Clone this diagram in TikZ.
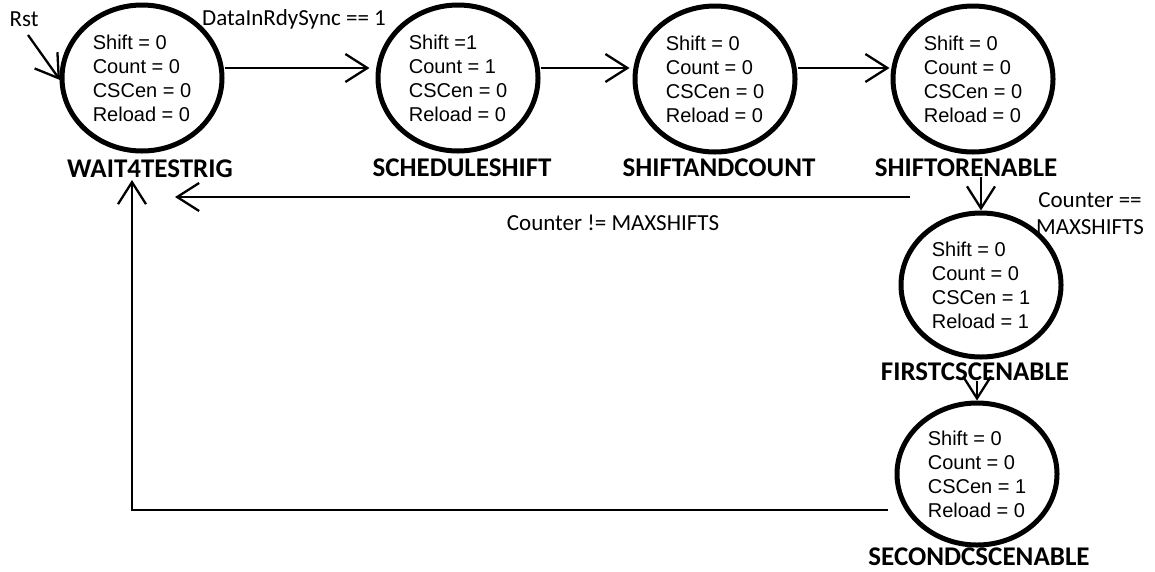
\documentclass[tikz,border=0pt]{standalone}
\usepackage{fontspec}
\setmainfont{Liberation Sans}
\newfontfamily\califont{Carlito}
\usetikzlibrary{arrows.meta,shapes.geometric}
\tikzset{
  state/.style={ellipse, draw, line width=5pt, minimum width=160pt, minimum height=146pt,
    inner sep=0pt, align=left, font=\fontsize{20}{24}\selectfont},
  stlabel/.style={font=\califont\bfseries\fontsize{27}{30}\selectfont, inner sep=0pt},
  edlabel/.style={font=\califont\fontsize{23}{27}\selectfont, inner sep=0pt, align=center},
  arr/.style={line width=2.3pt, -{Straight Barb[length=22pt,width=28pt]}},
}
\begin{document}
\begin{tikzpicture}[x=1pt,y=-1pt]
\path[use as bounding box, fill=white] (0,0) rectangle (1155,571);

% states
\node[state] (e1) at (142,78) {Shift = 0\\Count = 0\\CSCen = 0\\Reload = 0};
\node[state] (e2) at (458,78) {Shift =1\\Count = 1\\CSCen = 0\\Reload = 0};
\node[state] (e3) at (715,79) {Shift = 0\\Count = 0\\CSCen = 0\\Reload = 0};
\node[state] (e4) at (973,79) {Shift = 0\\Count = 0\\CSCen = 0\\Reload = 0};
\node[state, minimum height=144pt] (e5) at (981,285) {Shift = 0\\Count = 0\\CSCen = 1\\Reload = 1};
\node[state, minimum height=142pt] (e6) at (977,474) {Shift = 0\\Count = 0\\CSCen = 1\\Reload = 0};

% state names
\node[stlabel] (l1) at (150,169) {WAIT4TESTRIG};
\node[stlabel] (l2) at (462,168) {SCHEDULESHIFT};
\node[stlabel] (l3) at (719,168) {SHIFTANDCOUNT};
\node[stlabel] (l4) at (966,168) {SHIFTORENABLE};
\node[stlabel] (l5) at (975,372) {FIRSTCSCENABLE};
\node[stlabel] (l6) at (979,557) {SECONDCSCENABLE};

% edge labels
\node[edlabel] (rst) at (24,19) {Rst};
\node[edlabel] (g1) at (294,19) {DataInRdySync == 1};
\node[edlabel] (g2) at (613,223) {Counter != MAXSHIFTS};
\node[edlabel] (g3) at (1090,214) {Counter ==\\MAXSHIFTS};

% free ends
\coordinate (rs) at (28,35);
\coordinate (rt) at (60,80);
\coordinate (ba) at (910,197);
\coordinate (bb) at (175,197);
\coordinate (ca) at (888,510);
\coordinate (cb) at (132,180);

% transitions
\draw[arr] (rs) -- (rt);
\draw[arr] ([yshift=10pt]e1.east) -- ([yshift=10pt,xshift=-6pt]e2.west);
\draw[arr] ([yshift=10pt]e2.east) -- ([yshift=11pt,xshift=-3pt]e3.west);
\draw[arr] ([yshift=11pt]e3.east) -- ([yshift=11pt,xshift=-1pt]e4.west);
\draw[arr] (ba) -- (bb);
\draw[arr] (e5.north |- l4.south) -- (e5.north);
\draw[arr] (e6.north |- l5.south) -- (e6.north);
\draw[arr] (ca) -| (cb);
\end{tikzpicture}
\end{document}
